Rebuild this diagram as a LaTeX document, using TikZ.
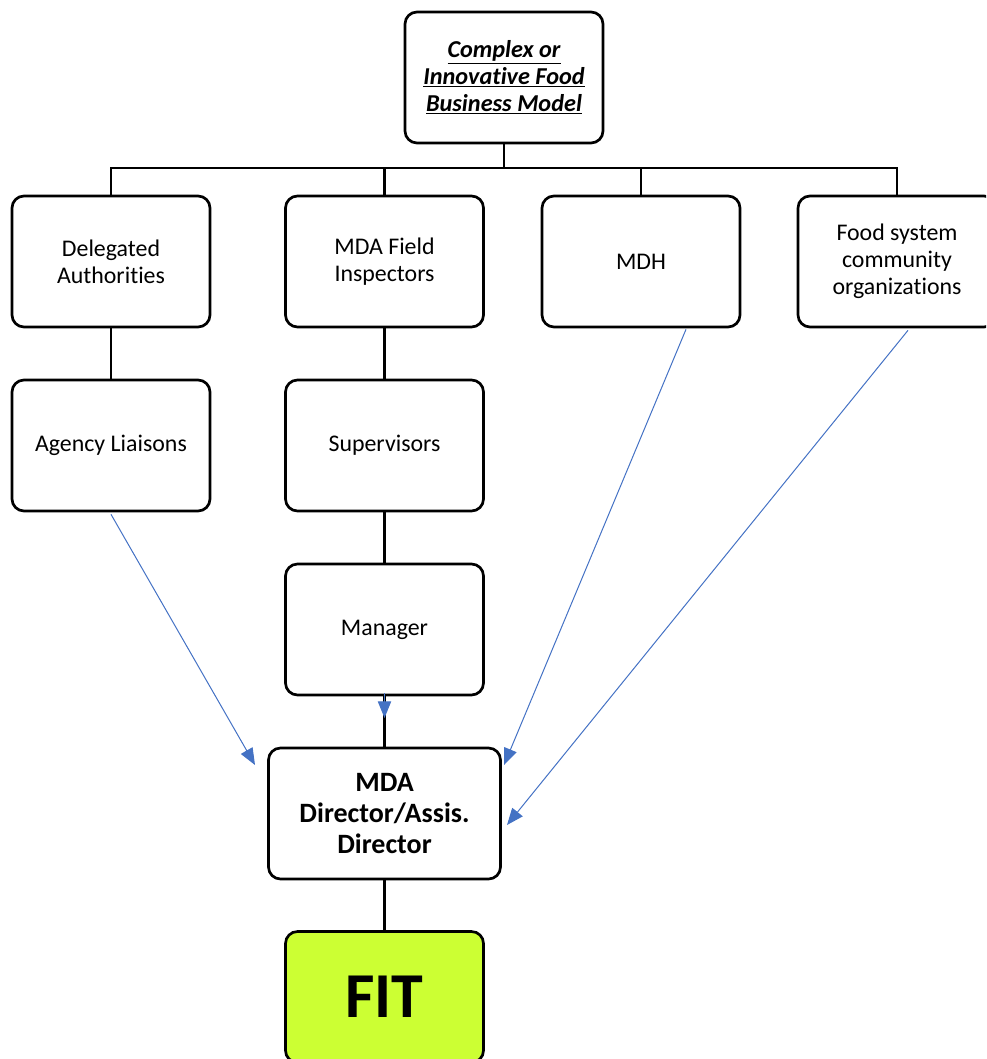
\documentclass[tikz,border=0pt]{standalone}
\usepackage{fontspec}
\setmainfont{Carlito}[Ligatures={NoCommon}]
\usetikzlibrary{arrows.meta,calc}
\definecolor{arrowblue}{HTML}{4472C4}
\definecolor{fitgreen}{HTML}{CCFF33}
\tikzset{
  box/.style={draw=black, line width=2pt, rounded corners=9pt, fill=white,
    minimum width=148.5pt, minimum height=98.25pt, inner sep=2pt, align=center,
    font=\fontsize{17.9}{20.3}\selectfont},
  link/.style={draw=black, line width=2pt},
  feed/.style={draw=arrowblue, line width=0.75pt,
    -{Triangle[length=12.5pt, width=10pt]}, fill=none},
}
\begin{document}
\begin{tikzpicture}[x=0.75pt, y=-0.75pt]
\useasboundingbox (0,0) rectangle (986,1059);
\clip (0,0) rectangle (986,1059);
% nodes
\node[box, font=\fontsize{18.2}{20}\selectfont] (top) at (504,77.5) {\textbf{\textit{\underline{Complex or}}}\\\textbf{\textit{\underline{Innovative Food}}}\\\textbf{\textit{\underline{Business Model}}}};
\node[box] (deleg) at (111,261.5) {Delegated\\Authorities};
\node[box] (field) at (384.5,261.5) {MDA Field\\Inspectors};
\node[box] (mdh) at (641,261.5) {MDH};
\node[box] (food) at (897,261.5) {Food system\\community\\organizations};
\node[box] (agency) at (111,445.5) {Agency Liaisons};
\node[box] (superv) at (384.5,445.5) {Supervisors};
\node[box] (manager) at (384.5,629.5) {Manager};
\node[box, minimum width=174pt, font=\fontsize{21}{23}\selectfont\bfseries] (director) at (384.5,813.5) {MDA\\Director/Assis.\\Director};
\node[box, fill=fitgreen, font=\fontsize{48}{50}\selectfont\bfseries] (fit) at (384.5,997) {FIT};
% bus
\coordinate (bus) at (504,168);
\draw[link] (top.south) -- (bus);
\draw[link] (deleg.north) -- (deleg.north |- bus) -- (food.north |- bus) -- (food.north);
\draw[link] (field.north) -- (field.north |- bus);
\draw[link] (mdh.north) -- (mdh.north |- bus);
% vertical links
\draw[link] (deleg.south) -- (agency.north);
\draw[link] (field.south) -- (superv.north);
\draw[link] (superv.south) -- (manager.north);
\draw[link] (manager.south) -- (director.north);
\draw[link] (director.south) -- (fit.north);
% blue feed arrows
\coordinate (tipA) at (255,765);
\coordinate (tipM) at (384.5,718);
\coordinate (tipH) at (504,765);
\coordinate (tipF) at (507,825);
\draw[feed] ($(agency.south)+(0,2)$) -- (tipA);
\draw[feed] ($(manager.south)+(0,-3)$) -- (tipM);
\draw[feed] ($(mdh.south)+(45,1)$) -- (tipH);
\draw[feed] ($(food.south)+(11,2)$) -- (tipF);
\end{tikzpicture}
\end{document}
